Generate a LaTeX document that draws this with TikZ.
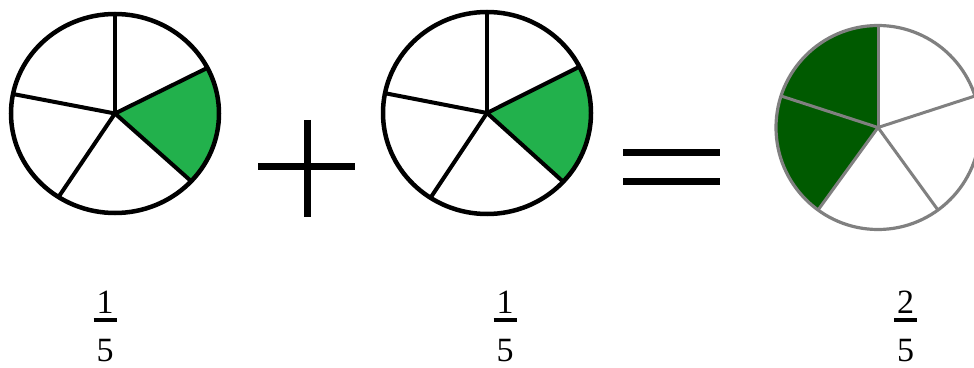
\documentclass[tikz,border=0pt]{standalone}
\usepackage{fontspec}
\setmainfont{Liberation Serif}
\usepackage{tikz}
\usetikzlibrary{calc}
\definecolor{paintgreen}{HTML}{22B14C}
\definecolor{darkgreen}{RGB}{0,90,0}
\definecolor{ringgray}{HTML}{808080}
\begin{document}
\begin{tikzpicture}[x=1pt,y=1pt,
  ring/.style={draw=black,line width=4.5pt},
  spoke/.style={draw=black,line width=4pt},
  gring/.style={draw=ringgray,line width=3.2pt},
  gspoke/.style={draw=ringgray,line width=3pt},
  opbar/.style={draw=black,line width=7pt},
  fracbar/.style={draw=black,line width=3.6pt},
  digit/.style={anchor=base,inner sep=0pt,font=\fontsize{34}{40}\selectfont}]
\useasboundingbox (0,0) rectangle (974,367);
\clip (0,0) rectangle (974,367);
\fill[white] (0,0) rectangle (974,367);

% ---------- circle 1 ----------
\coordinate (c1) at (115,253.5);
\fill[paintgreen] (c1) -- ($(c1)+(27.3:104 and 99.5)$) arc[start angle=27.3,end angle=-42.9,x radius=104,y radius=99.5] -- cycle;
\foreach \a in {90,27.3,-42.9,-122.9,168.7}
  \draw[spoke] (c1) -- ($(c1)+(\a:104 and 99.5)$);
\draw[ring] (c1) ellipse[x radius=104,y radius=99.5];

% ---------- plus ----------
\coordinate (pv1) at (307,247);
\coordinate (pv2) at (307,150);
\coordinate (ph1) at (258,200);
\coordinate (ph2) at (355,200);
\draw[opbar] (pv1) -- (pv2);
\draw[opbar] (ph1) -- (ph2);

% ---------- circle 2 ----------
\coordinate (c2) at (487,254);
\fill[paintgreen] (c2) -- ($(c2)+(27.3:104 and 101)$) arc[start angle=27.3,end angle=-42.9,x radius=104,y radius=101] -- cycle;
\foreach \a in {90,27.3,-42.9,-122.9,168.7}
  \draw[spoke] (c2) -- ($(c2)+(\a:104 and 101)$);
\draw[ring] (c2) ellipse[x radius=104,y radius=101];

% ---------- equals ----------
\coordinate (e1a) at (623,214);
\coordinate (e1b) at (720,214);
\coordinate (e2a) at (623,185);
\coordinate (e2b) at (720,185);
\draw[opbar] (e1a) -- (e1b);
\draw[opbar] (e2a) -- (e2b);

% ---------- circle 3 ----------
\coordinate (c3) at (878,239.5);
\fill[darkgreen] (c3) -- ($(c3)+(90:102)$) arc[start angle=90,end angle=234,radius=102] -- cycle;
\foreach \a in {90,18,-54,-126,162}
  \draw[gspoke] (c3) -- ($(c3)+(\a:102)$);
\draw[gring] (c3) circle[radius=102];

% ---------- fractions ----------
\node[digit] (n1) at (105,53.5) {1};
\node[digit] (d1) at (105,6) {5};
\draw[fracbar] (93.5,47) -- (116.5,47);

\node[digit] (n2) at (505,53.5) {1};
\node[digit] (d2) at (505,6) {5};
\draw[fracbar] (493.5,47) -- (516.5,47);

\node[digit] (n3) at (905.5,53.5) {2};
\node[digit] (d3) at (905.5,6) {5};
\draw[fracbar] (894,47) -- (917,47);
\end{tikzpicture}
\end{document}
